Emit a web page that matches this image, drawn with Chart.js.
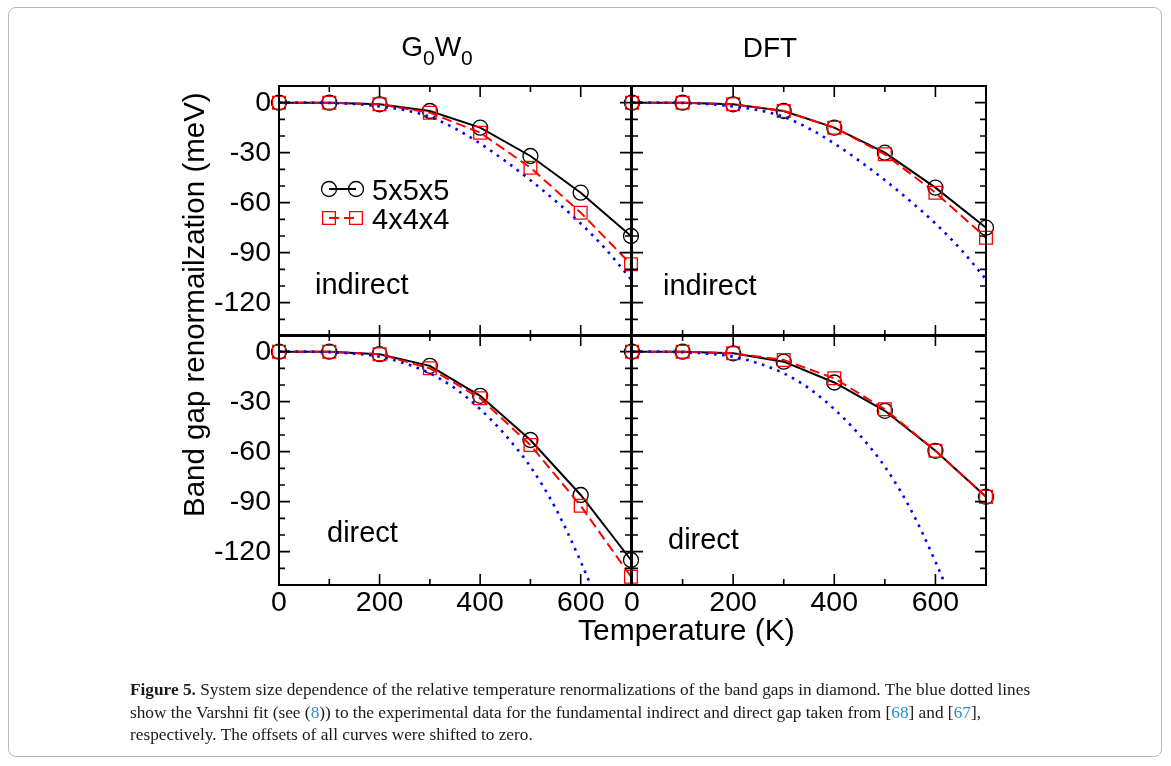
<!DOCTYPE html>
<html>
<head>
<meta charset="utf-8">
<script src="https://cdn.jsdelivr.net/npm/chart.js@4.4.1/dist/chart.umd.min.js"></script>
<style>
html,body{margin:0;padding:0;background:#fff;}
#wrap{position:relative;width:1171px;height:766px;overflow:hidden;font-family:'Liberation Sans',Arial,Helvetica,sans-serif;background:#fff;}
canvas{position:absolute;left:0;top:0;pointer-events:none;}
.frame{position:absolute;left:8px;top:7px;width:1154px;height:750px;border:1px solid #b8b8b8;border-radius:8px;box-sizing:border-box;}
.t{position:absolute;white-space:nowrap;color:#000;line-height:1;}
.sub{font-size:21px;vertical-align:-9px;}
.cap{position:absolute;left:130px;top:679px;font-family:'Liberation Serif','Times New Roman',serif;font-size:17.3px;line-height:22.5px;color:#1a1a1a;white-space:nowrap;}
.lk{color:#2a8dd4;}
</style>
</head>
<body>
<div id="wrap">
  <div class="frame"></div>
  <canvas id="cTL" width="1171" height="766"></canvas>
  <canvas id="cTR" width="1171" height="766"></canvas>
  <canvas id="cBL" width="1171" height="766"></canvas>
  <canvas id="cBR" width="1171" height="766"></canvas>

  <div class="t" style="left:437px;top:33.3px;font-size:28px;transform:translateX(-50%);">G<span class="sub">0</span>W<span class="sub">0</span></div>
  <div class="t" style="left:770px;top:34px;font-size:28px;transform:translateX(-50%);">DFT</div>

  <div class="t" style="left:315px;top:270px;font-size:29px;">indirect</div>
  <div class="t" style="left:663px;top:271px;font-size:29px;">indirect</div>
  <div class="t" style="left:327px;top:517.5px;font-size:29px;">direct</div>
  <div class="t" style="left:668px;top:524.5px;font-size:29px;">direct</div>

  <div class="t" style="left:578px;top:615px;font-size:30px;">Temperature (K)</div>
  <div class="t" style="left:178.5px;top:517px;font-size:29.5px;transform-origin:0 0;transform:rotate(-90deg);">Band gap renormailzation (meV)</div>

  <div class="cap"><b>Figure 5.</b> System size dependence of the relative temperature renormalizations of the band gaps in diamond. The blue dotted lines<br>show the Varshni fit (see (<span class="lk">8</span>)) to the experimental data for the fundamental indirect and direct gap taken from [<span class="lk">68</span>] and [<span class="lk">67</span>],<br>respectively. The offsets of all curves were shifted to zero.</div>
</div>

<script>
// ---------------- data ----------------
const temperatures = [0, 100, 200, 300, 400, 500, 600, 700];

const g0w0Indirect555 = [0, 0, -1, -5, -15, -32, -54, -80];
const g0w0Indirect444 = [0, 0, -1, -6, -18, -39, -66, -97];
const dftIndirect555  = [0, 0, -1, -5, -15, -30, -51, -75];
const dftIndirect444  = [0, 0, -1, -5, -15, -31, -54, -81];

const g0w0Direct555 = [0, 0, -1.5, -8.5, -26.5, -53, -86, -125];
const g0w0Direct444 = [0, 0, -1.5, -10, -28, -56, -92.5, -135];
const dftDirect555  = [0, 0, -1, -6, -18.5, -35.5, -59.5, -87];
const dftDirect444  = [0, 0, -1, -5, -16, -34.5, -59.5, -87];

const varshniTemps    = [0, 50, 100, 150, 200, 250, 300, 350, 400, 450, 500, 550, 600, 650, 700];
const varshniIndirect = [0, 0, -0.2, -0.8, -2.3, -4.5, -8.5, -15.5, -24.5, -35, -46.5, -59, -72.5, -88, -106];
const varshniDirect   = [0, 0, -0.3, -1.2, -3, -7, -13, -22, -34.5, -50, -69, -94, -126, -163, -205];

const xTickLabels = [0, 200, 400, 600];
const yTickLabels = [0, -30, -60, -90, -120];
const seriesNames = ['5x5x5', '4x4x4'];

// ---------------- helpers ----------------
const W = 1171, H = 766;
const FONT = "'Liberation Sans', Arial, Helvetica, sans-serif";
const Y_AXIS_W = 100, X_AXIS_H = 60;

const framePlugin = {
  id: 'frameTicks',
  afterDatasetsDraw(chart) {
    const { ctx, chartArea: a, scales: { x, y } } = chart;
    ctx.save();
    ctx.strokeStyle = '#000';
    ctx.lineWidth = 1.6;
    ctx.beginPath();
    x.ticks.forEach(t => {
      const px = x.getPixelForValue(t.value);
      const L = xTickLabels.includes(t.value) ? 11 : 6;
      ctx.moveTo(px, a.bottom); ctx.lineTo(px, a.bottom - L);
      ctx.moveTo(px, a.top); ctx.lineTo(px, a.top + L);
    });
    y.ticks.forEach(t => {
      const py = y.getPixelForValue(t.value);
      const L = yTickLabels.includes(t.value) ? 11 : 6;
      ctx.moveTo(a.left, py); ctx.lineTo(a.left + L, py);
      ctx.moveTo(a.right, py); ctx.lineTo(a.right - L, py);
    });
    ctx.stroke();
    ctx.lineWidth = 2;
    ctx.strokeRect(a.left, a.top, a.right - a.left, a.bottom - a.top);
    ctx.restore();
  }
};

const insetLegend = {
  id: 'insetLegend',
  afterDatasetsDraw(chart) {
    const ctx = chart.ctx;
    const ds = chart.data.datasets;
    const rows = [{ d: ds[2], y: 189 }, { d: ds[1], y: 218 }];
    ctx.save();
    rows.forEach(r => {
      const x1 = 329, x2 = 356;
      ctx.strokeStyle = r.d.borderColor;
      ctx.lineWidth = r.d.borderWidth;
      ctx.setLineDash(r.d.borderDash || []);
      ctx.beginPath(); ctx.moveTo(x1, r.y); ctx.lineTo(x2, r.y); ctx.stroke();
      ctx.setLineDash([]);
      ctx.lineWidth = r.d.pointBorderWidth;
      [x1, x2].forEach(px => {
        ctx.beginPath();
        if (r.d.pointStyle === 'rect') {
          const s = Math.SQRT1_2 * r.d.pointRadius;
          ctx.rect(px - s, r.y - s, 2 * s, 2 * s);
        } else {
          ctx.arc(px, r.y, r.d.pointRadius, 0, Math.PI * 2);
        }
        ctx.stroke();
      });
      ctx.fillStyle = '#000';
      ctx.font = '29px ' + FONT;
      ctx.textBaseline = 'alphabetic';
      ctx.fillText(r.d.label, 372, r.y + 10.5);
    });
    ctx.restore();
  }
};

function pts(xs, ys) { return xs.map((v, i) => ({ x: v, y: ys[i] })); }

function makePanel(id, box, s555, s444, varshni, showX, showY, withLegend) {
  const plugins = [framePlugin];
  if (withLegend) plugins.push(insetLegend);
  const yW = showY ? Y_AXIS_W : 0;
  const xH = showX ? X_AXIS_H : 0;
  return new Chart(document.getElementById(id), {
    type: 'line',
    data: {
      datasets: [
        { label: 'Varshni fit', data: pts(varshniTemps, varshni), borderColor: '#0000ff', borderWidth: 2.6,
          borderDash: [2.6, 5.6], pointRadius: 0, fill: false, clip: 0, cubicInterpolationMode: 'monotone' },
        { label: seriesNames[1], data: pts(temperatures, s444), borderColor: '#ff0000', borderWidth: 2,
          borderDash: [10, 5], pointStyle: 'rect', pointRadius: 9, pointBorderWidth: 1.3,
          pointBorderColor: '#ff0000', pointBackgroundColor: 'rgba(0,0,0,0)', fill: false, clip: false, tension: 0 },
        { label: seriesNames[0], data: pts(temperatures, s555), borderColor: '#000000', borderWidth: 2,
          pointStyle: 'circle', pointRadius: 7.5, pointBorderWidth: 1.3,
          pointBorderColor: '#000000', pointBackgroundColor: 'rgba(0,0,0,0)', fill: false, clip: false, tension: 0 }
      ]
    },
    options: {
      responsive: false, animation: false, devicePixelRatio: 1,
      events: [],
      layout: { padding: { left: box.l - yW, top: box.t, right: W - box.r, bottom: H - box.b - xH } },
      plugins: { legend: { display: false }, tooltip: { enabled: false }, title: { display: false } },
      scales: {
        x: {
          type: 'linear', min: 0, max: 700,
          grid: { display: false, drawTicks: false }, border: { display: false },
          ticks: { display: showX, stepSize: 100, autoSkip: false, maxRotation: 0, padding: 1, color: '#000',
                   font: { family: FONT, size: 28.5 },
                   callback: v => xTickLabels.includes(v) ? String(v) : '' },
          afterFit(s) { s.height = xH; }
        },
        y: {
          type: 'linear', min: -140, max: 10,
          grid: { display: false, drawTicks: false }, border: { display: false },
          ticks: { display: showY, stepSize: 10, autoSkip: false, padding: 8, color: '#000',
                   font: { family: FONT, size: 28.5 },
                   callback: v => yTickLabels.includes(v) ? String(v) : '' },
          afterFit(s) { s.width = yW; }
        }
      }
    },
    plugins
  });
}

makePanel('cTL', { l: 279, r: 631, t: 86, b: 336 }, g0w0Indirect555, g0w0Indirect444, varshniIndirect, false, true, true);
makePanel('cTR', { l: 632, r: 986, t: 86, b: 336 }, dftIndirect555, dftIndirect444, varshniIndirect, false, false, false);
makePanel('cBL', { l: 279, r: 631, t: 335, b: 585 }, g0w0Direct555, g0w0Direct444, varshniDirect, true, true, false);
makePanel('cBR', { l: 632, r: 986, t: 335, b: 585 }, dftDirect555, dftDirect444, varshniDirect, true, false, false);
</script>
</body>
</html>
